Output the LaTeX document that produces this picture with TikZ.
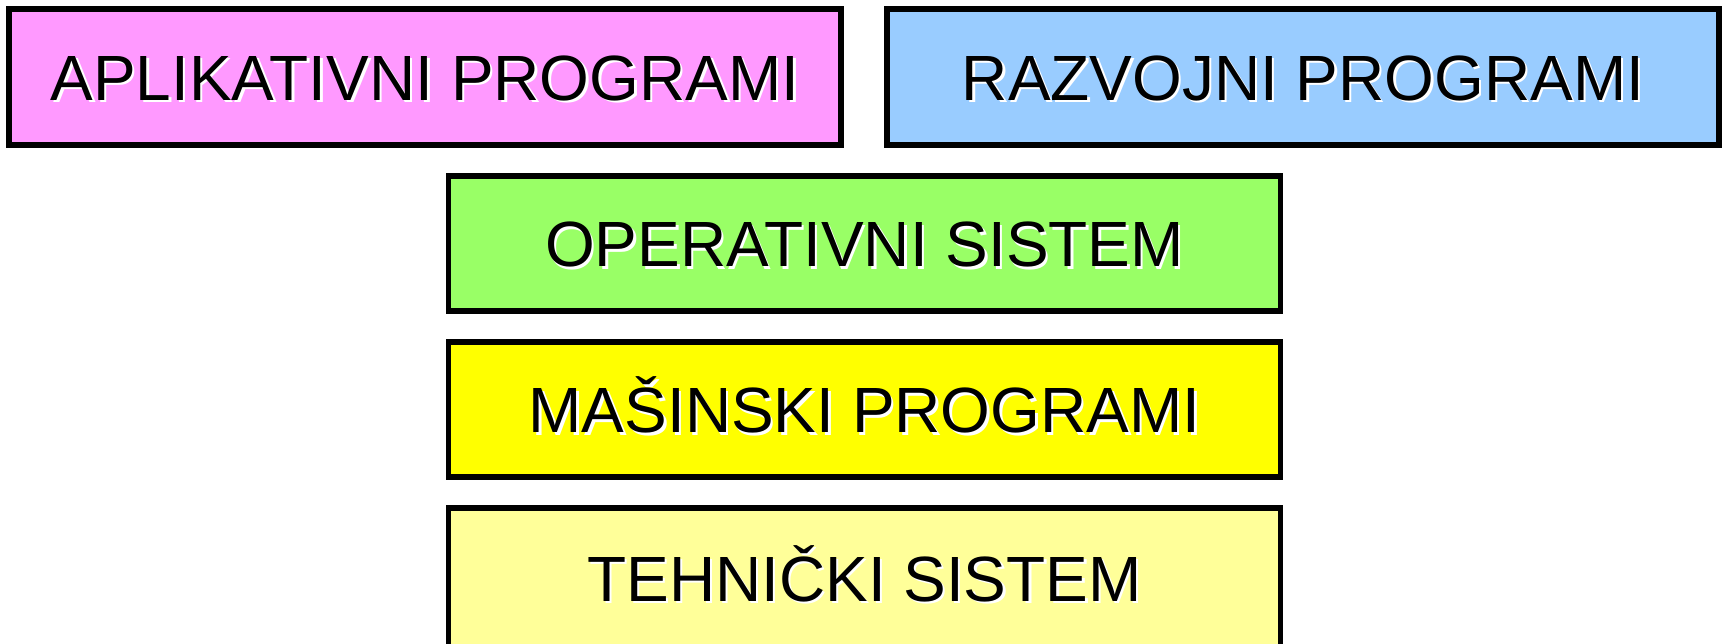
\documentclass[tikz,border=0pt]{standalone}
\usepackage{fontspec}
\setmainfont{Liberation Sans}
\usepackage{xcolor}
\usepackage{tikz}
\usetikzlibrary{calc}
\definecolor{layerPink}{HTML}{FF99FF}
\definecolor{layerBlue}{HTML}{99CCFF}
\definecolor{layerGreen}{HTML}{99FF66}
\definecolor{layerYellow}{HTML}{FFFF00}
\definecolor{layerPale}{HTML}{FFFF99}
\newcommand{\glowtext}[1]{\makebox[0pt][l]{\hspace{0.7pt}\raisebox{-0.7pt}{\color{white}#1}}#1}

\begin{document}
\begin{tikzpicture}[
            layerbox/.style={
                draw=black,
                line width=1.7pt,
                minimum width=8.32cm,
                minimum height=1.35cm,
                inner sep=0pt,
                text height=13.2pt,
                text depth=0pt,
                align=center,
                font=\fontsize{18.2}{20}\selectfont
            },
            appbox/.style={
                layerbox,
                minimum height=1.36cm,
                fill=layerPink
            },
            devbox/.style={
                layerbox,
                minimum height=1.36cm,
                fill=layerBlue
            },
            osbox/.style={
                layerbox,
                fill=layerGreen
            },
            machinebox/.style={
                layerbox,
                fill=layerYellow
            },
            hardwarebox/.style={
                layerbox,
                minimum height=1.40cm,
                fill=layerPale
            }
        ]

        \clip (0,0) rectangle (17.25,6.43);

        % --- Program layer ---
        \node[appbox] (apps) at (4.25,5.66)
            {\glowtext{APLIKATIVNI PROGRAMI}};

        \node[devbox] (devtools) at (13.03,5.66)
            {\glowtext{RAZVOJNI PROGRAMI}};

        % --- System layers ---
        \node[osbox] (os) at (8.645,3.995)
            {\glowtext{OPERATIVNI SISTEM}};

        \node[machinebox, anchor=north]
            (machine) at ([yshift=-0.25cm]os.south)
            {\glowtext{MAŠINSKI PROGRAMI}};

        \node[hardwarebox, anchor=north]
            (hardware) at ([yshift=-0.25cm]machine.south)
            {\glowtext{TEHNIČKI SISTEM}};

        \end{tikzpicture}
\end{document}
